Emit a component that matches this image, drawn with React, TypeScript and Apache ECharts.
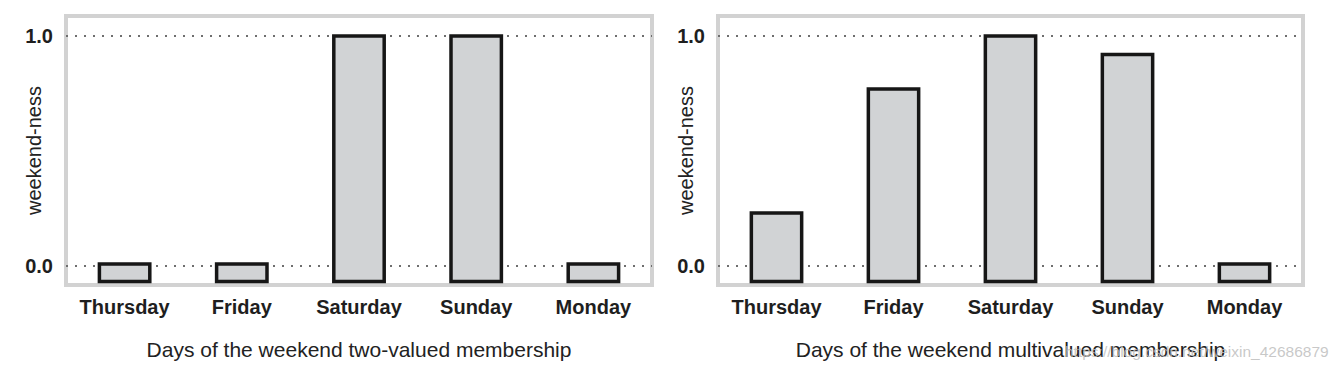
import React, { useEffect, useRef } from "react";
import * as echarts from "echarts";

const categories = ["Thursday", "Friday", "Saturday", "Sunday", "Monday"];
const twoValued = [0, 0, 1, 1, 0];
const multiValued = [0.23, 0.77, 1, 0.92, 0];
const tickValues = [0, 1];
const leftTitle = "Days of the weekend two-valued membership";
const rightTitle = "Days of the weekend multivalued membership";
const yName = "weekend-ness";
const watermark = "https://blog.csdn.net/weixin_42686879";

const FONT = "'Liberation Sans', Arial, Helvetica, sans-serif";
const BAR_BASE = -0.068;
const ZERO_STUB = 0.008;

export default function App() {
  const ref = useRef<HTMLDivElement>(null);
  useEffect(() => {
    if (!ref.current) return;
    const chart = echarts.init(ref.current, undefined, { renderer: "svg" });

    const grids = [
      { left: 66, top: 16, width: 586, height: 269 },
      { left: 718, top: 16, width: 585, height: 269 },
    ].map((g) => ({
      ...g,
      show: true,
      borderColor: "#d2d2d2",
      borderWidth: 4,
      backgroundColor: "#ffffff",
    }));

    const mkX = (i: number, name: string) => ({
      type: "category",
      gridIndex: i,
      data: categories,
      name,
      nameLocation: "middle",
      nameGap: 54,
      nameMoveOverlap: false,
      nameTextStyle: { fontFamily: FONT, fontSize: 21, color: "#222" },
      axisLine: { show: false },
      axisTick: { show: false },
      splitLine: { show: false },
      axisLabel: {
        fontFamily: FONT,
        fontSize: 20,
        fontWeight: "bold",
        color: "#1e1e1e",
        margin: 12,
        interval: 0,
      },
    });

    const mkY = (i: number) => ({
      type: "value",
      gridIndex: i,
      min: -0.083,
      max: 1.087,
      name: yName,
      nameLocation: "middle",
      nameRotate: 90,
      nameGap: 22,
      nameMoveOverlap: false,
      nameTextStyle: { fontFamily: FONT, fontSize: 20, color: "#222" },
      axisLine: { show: false },
      axisTick: { show: false },
      splitLine: { show: false },
      axisLabel: {
        customValues: tickValues,
        formatter: (v: number) => v.toFixed(1),
        fontFamily: FONT,
        fontSize: 20,
        fontWeight: "bold",
        color: "#1e1e1e",
        margin: 13,
      },
    });

    const mkSeries = (i: number, values: number[]) => ({
      type: "custom",
      xAxisIndex: i,
      yAxisIndex: i,
      data: values.map((v, k) => [k, v]),
      encode: { x: 0, y: 1 },
      renderItem: (params: any, api: any) => {
        const idx = api.value(0);
        const v = api.value(1);
        const top = api.coord([idx, Math.max(v, ZERO_STUB)]);
        const base = api.coord([idx, BAR_BASE]);
        const w = api.size([1, 0])[0] * 0.43;
        return {
          type: "rect",
          shape: { x: top[0] - w / 2, y: top[1], width: w, height: base[1] - top[1] },
          style: { fill: "#d1d3d5", stroke: "#161616", lineWidth: 3.5 },
          z2: 10,
        };
      },
      markLine: {
        silent: true,
        symbol: ["none", "none"],
        label: { show: false },
        lineStyle: { type: [2, 7], width: 2, color: "#6e6e6e" },
        data: tickValues.map((t) => ({ yAxis: t })),
        z: 1,
      },
      z: 2,
    });

    chart.setOption({
      animation: false,
      backgroundColor: "#ffffff",
      grid: grids,
      xAxis: [mkX(0, leftTitle), mkX(1, rightTitle)],
      yAxis: [mkY(0), mkY(1)],
      series: [mkSeries(0, twoValued), mkSeries(1, multiValued)],
      graphic: [
        {
          type: "text",
          left: 1065,
          top: 343,
          z: 100,
          style: {
            text: watermark,
            fontFamily: FONT,
            fontSize: 15.5,
            fill: "rgba(190,190,190,0.85)",
          },
        },
      ],
    });
    return () => chart.dispose();
  }, []);
  return (
    <div
      ref={ref}
      style={{ position: "fixed", left: 0, top: 0, width: 1340, height: 372 }}
    />
  );
}
